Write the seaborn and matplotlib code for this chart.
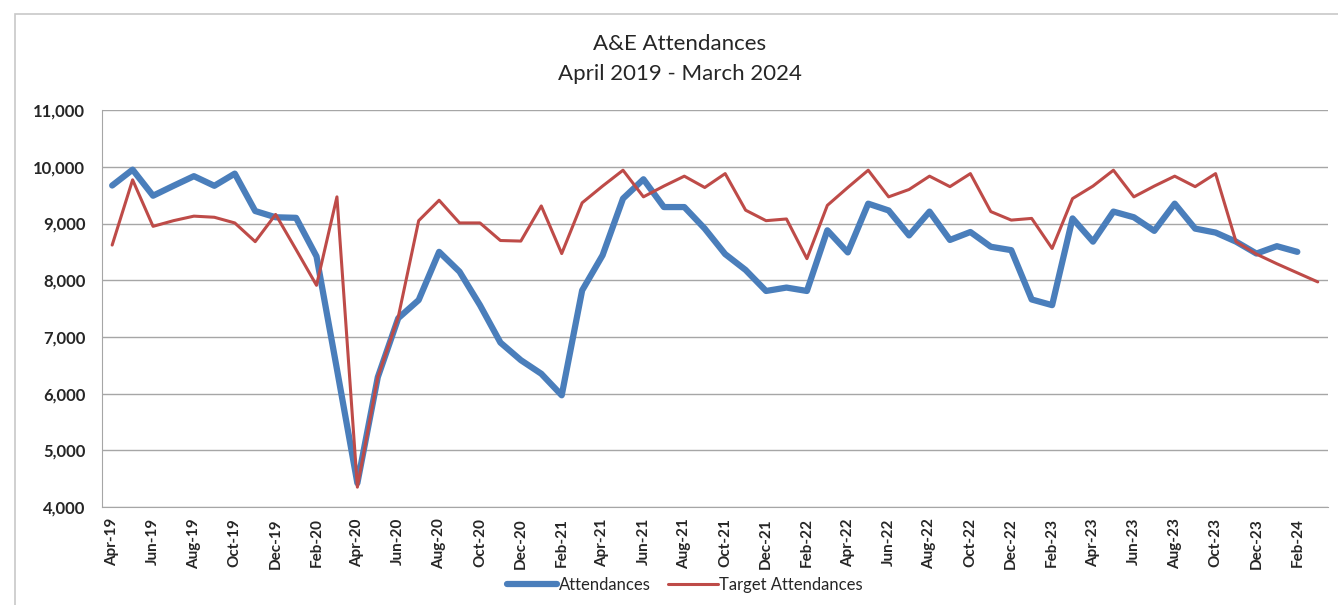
import numpy as np
import pandas as pd
import seaborn as sns
import matplotlib.pyplot as plt
from matplotlib.patches import Rectangle
from matplotlib.ticker import FuncFormatter

sns.set_style("white")
plt.rcParams['font.family'] = ['Lato', 'DejaVu Sans']

months = pd.date_range('2019-04-01', '2024-03-01', freq='MS').strftime('%b-%y').tolist()

attendances = [9670, 9950, 9490, 9665, 9835, 9665, 9880, 9220, 9110, 9100,
               8420, 6430, 4420, 6290, 7330, 7650, 8500, 8150, 7560, 6900,
               6590, 6350, 5970, 7820, 8440, 9440, 9780, 9290, 9290, 8910,
               8460, 8180, 7810, 7870, 7810, 8880, 8490, 9350, 9230, 8790,
               9210, 8710, 8850, 8590, 8530, 7660, 7560, 9090, 8680, 9210,
               9110, 8870, 9350, 8910, 8840, 8680, 8470, 8600, 8500]

target = [8620, 9770, 8950, 9050, 9130, 9110, 9010, 8680, 9160, 8540,
          7910, 9470, 4350, 6290, 7350, 9050, 9410, 9010, 9010, 8700,
          8690, 9310, 8470, 9365, 9660, 9940, 9470, 9660, 9835, 9635,
          9880, 9235, 9050, 9080, 8380, 9320, 9635, 9940, 9470, 9600,
          9835, 9650, 9880, 9210, 9060, 9090, 8560, 9440, 9660, 9940,
          9470, 9660, 9835, 9650, 9880, 8680, 8460, 8290, 8130, 7970]

df_a = pd.DataFrame({'idx': np.arange(len(attendances)), 'value': attendances})
df_t = pd.DataFrame({'idx': np.arange(len(target)), 'value': target})

fig = plt.figure(figsize=(13.38, 6.05), dpi=100)
ax = fig.add_axes([0.0762, 0.162, 0.9163, 0.656])

# chart frame like the Excel chart area
fig.patches.append(Rectangle((15 / 1338, -0.05), 1.1, 1 - 14 / 605 + 0.05,
                             transform=fig.transFigure, fill=False,
                             edgecolor='#c8c8c8', linewidth=1.2))

sns.lineplot(data=df_a, x='idx', y='value', ax=ax, color='#4a7ebb',
             linewidth=4.5, label='Attendances', legend=False)
sns.lineplot(data=df_t, x='idx', y='value', ax=ax, color='#be4b48',
             linewidth=2.2, label='Target Attendances', legend=False)

ax.set_xlim(-0.5, 59.5)
ax.set_ylim(4000, 11000)
ax.set_yticks(range(4000, 11001, 1000))
ax.yaxis.set_major_formatter(FuncFormatter(lambda v, p: f'{int(v):,}'))
ax.grid(axis='y', color='#a6a6a6', linewidth=1)
ax.set_axisbelow(True)

ax.set_xticks(range(0, 60, 2))
ax.set_xticklabels(months[::2], rotation=90, fontweight='bold', fontsize=11)
ax.set_xticks(np.arange(-0.5, 60, 2), minor=True)
ax.tick_params(axis='x', which='major', length=0, pad=8)
ax.tick_params(axis='x', which='minor', length=5, color='#a6a6a6', width=1)
ax.tick_params(axis='y', length=6, color='#a6a6a6', width=1, pad=6)
for lab in ax.get_yticklabels():
    lab.set_fontweight('bold')
    lab.set_fontsize(12)

for side in ['top', 'right']:
    ax.spines[side].set_visible(False)
for side in ['left', 'bottom']:
    ax.spines[side].set_color('#a6a6a6')

ax.set_xlabel('')
ax.set_ylabel('')

fig.text(0.508, 0.928, 'A&E Attendances', ha='center', va='center', fontsize=16)
fig.text(0.508, 0.877, 'April 2019 - March 2024', ha='center', va='center', fontsize=16)

handles, labels = ax.get_legend_handles_labels()
fig.legend(handles, labels, loc='center', bbox_to_anchor=(0.512, 0.033), ncol=2,
           frameon=False, fontsize=12, handlelength=3.0, handletextpad=0.1,
           columnspacing=1.0, borderpad=0)

fig.savefig('out.png', dpi=100)
